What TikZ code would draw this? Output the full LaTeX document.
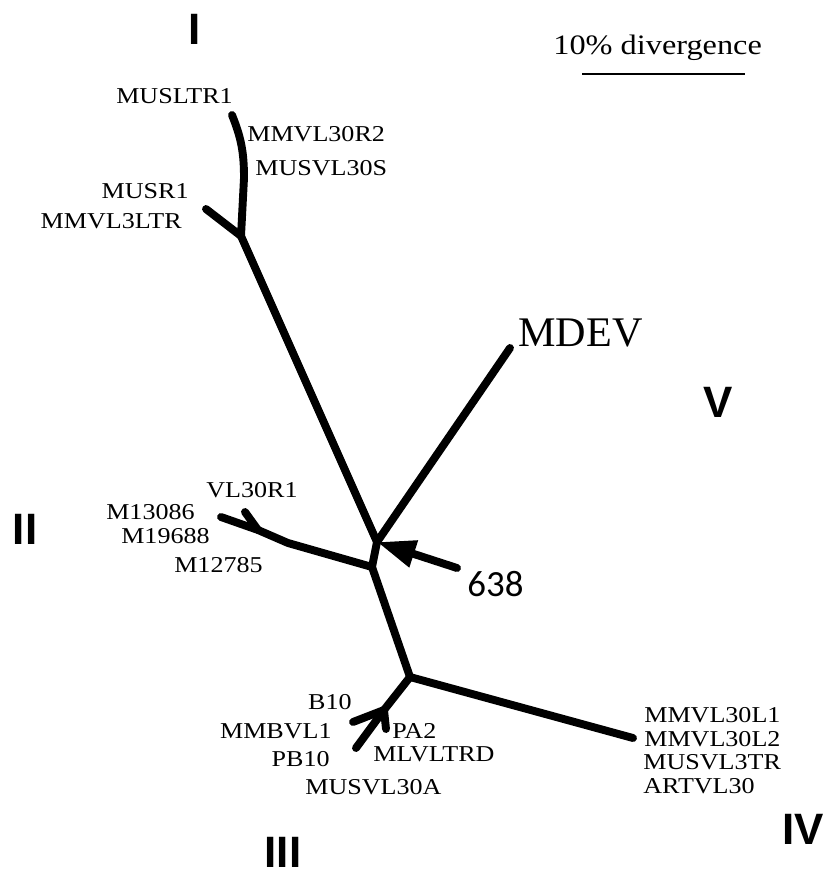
\documentclass[tikz,border=0pt]{standalone}
\usepackage{fontspec}
\newfontfamily\lblfont[FakeStretch=1.15]{Liberation Serif}
\newfontfamily\bigfont{Liberation Serif}
\newfontfamily\romfont{Liberation Sans}
\newfontfamily\numfont{Carlito}
\usetikzlibrary{arrows.meta}

\begin{document}
\begin{tikzpicture}[x=0.02cm,y=-0.02cm,
	branch/.style={line width=4.5pt,line cap=round,line join=round},
	lbl/.style={inner sep=0pt,font={\lblfont\fontsize{12.9}{14}\selectfont}},
	clade/.style={inner sep=0pt,font={\romfont\bfseries\fontsize{25}{30}\selectfont}}]
		\useasboundingbox (0,0) rectangle (824,878);
		% tree junctions and tips:
		\coordinate (jup) at (377,542);
		\coordinate (jlow) at (372,567);
		\coordinate (jI) at (241,236);
		\coordinate (kI) at (244,178);
		\coordinate (tI) at (232,115);
		\coordinate (tIb) at (206,209);
		\coordinate (tV) at (510,348);
		\coordinate (kII) at (288,543);
		\coordinate (fII) at (258,530);
		\coordinate (tII) at (221,517);
		\coordinate (tIIb) at (245,512);
		\coordinate (jIV) at (410,677);
		\coordinate (tIV) at (633,738);
		\coordinate (fIII) at (384,710);
		\coordinate (tIIIa) at (353,722);
		\coordinate (tIIIb) at (356,748);
		\coordinate (tIIIc) at (386,729);
		\coordinate (a638) at (457,568);
		% branches:
		\draw[branch] (tI) to[out=-68,in=90] (kI) -- (jI);
		\draw[branch] (tIb) -- (jI);
		\draw[branch] (jI) -- (jup);
		\draw[branch] (jup) -- (tV);
		\draw[branch] (jup) -- (jlow);
		\draw[branch] (jlow) -- (kII) -- (fII) -- (tII);
		\draw[branch] (fII) -- (tIIb);
		\draw[branch] (jlow) -- (jIV);
		\draw[branch] (jIV) -- (tIV);
		\draw[branch] (jIV) -- (fIII);
		\draw[branch] (fIII) -- (tIIIa);
		\draw[branch] (fIII) -- (tIIIb);
		\draw[branch] (fIII) -- (tIIIc);
		\draw[branch,-{Triangle[length=22pt,width=15pt]}] (a638) -- (jup);
		% clade numbers:
		\node[clade] (cI) at (195,29) {I};
		\node[clade] (cII) at (25,529) {II};
		\node[clade] (cIII) at (283,852) {III};
		\node[clade] (cIV) at (803,829) {IV};
		\node[clade] (cV) at (718,402) {V};
		% sequence names:
		\node[lbl,anchor=east] (musltr) at (233,96) {MUSLTR1};
		\node[lbl,anchor=west] (mmvlr2) at (247,134) {MMVL30R2};
		\node[lbl,anchor=west] (musvls) at (255,168) {MUSVL30S};
		\node[lbl,anchor=east] (musr) at (189,191) {MUSR1};
		\node[lbl,anchor=east] (mmvl3) at (182,221) {MMVL3LTR};
		\node[inner sep=0pt,anchor=west,font={\bigfont\fontsize{24}{28}\selectfont}] (mdev) at (518,333) {MDEV};
		\node[lbl,anchor=west] (vlr) at (206,490) {VL30R1};
		\node[lbl,anchor=east] (m13) at (195,512) {M13086};
		\node[lbl,anchor=east] (m19) at (210,536) {M19688};
		\node[lbl,anchor=east] (m12) at (263,565) {M12785};
		\node[inner sep=0pt,anchor=west,font={\numfont\fontsize{21}{25}\selectfont}] (n638) at (467,584) {638};
		\node[lbl,anchor=east] (b10) at (352,702) {B10};
		\node[lbl,anchor=east] (mmbvl) at (332,731) {MMBVL1};
		\node[lbl,anchor=east] (pb10) at (330,759) {PB10};
		\node[lbl,anchor=west] (musvla) at (305,787) {MUSVL30A};
		\node[lbl,anchor=west] (pa2) at (392,731) {PA2};
		\node[lbl,anchor=west] (mlvl) at (373,754) {MLVLTRD};
		\node[lbl,anchor=west] (mmvl1) at (644,715) {MMVL30L1};
		\node[lbl,anchor=west] (mmvl2) at (644,739) {MMVL30L2};
		\node[lbl,anchor=west] (musvl3) at (643,762) {MUSVL3TR};
		\node[lbl,anchor=west] (artvl) at (643,786) {ARTVL30};
		% scale:
		\node[inner sep=0pt,anchor=west,font={\lblfont\fontsize{16}{19}\selectfont}] (scl) at (553,48) {10\% divergence};
		\coordinate (sbl) at (582,74);
		\coordinate (sbr) at (745,74);
		\draw[line width=1.7pt] (sbl) -- (sbr);
\end{tikzpicture}
\end{document}
